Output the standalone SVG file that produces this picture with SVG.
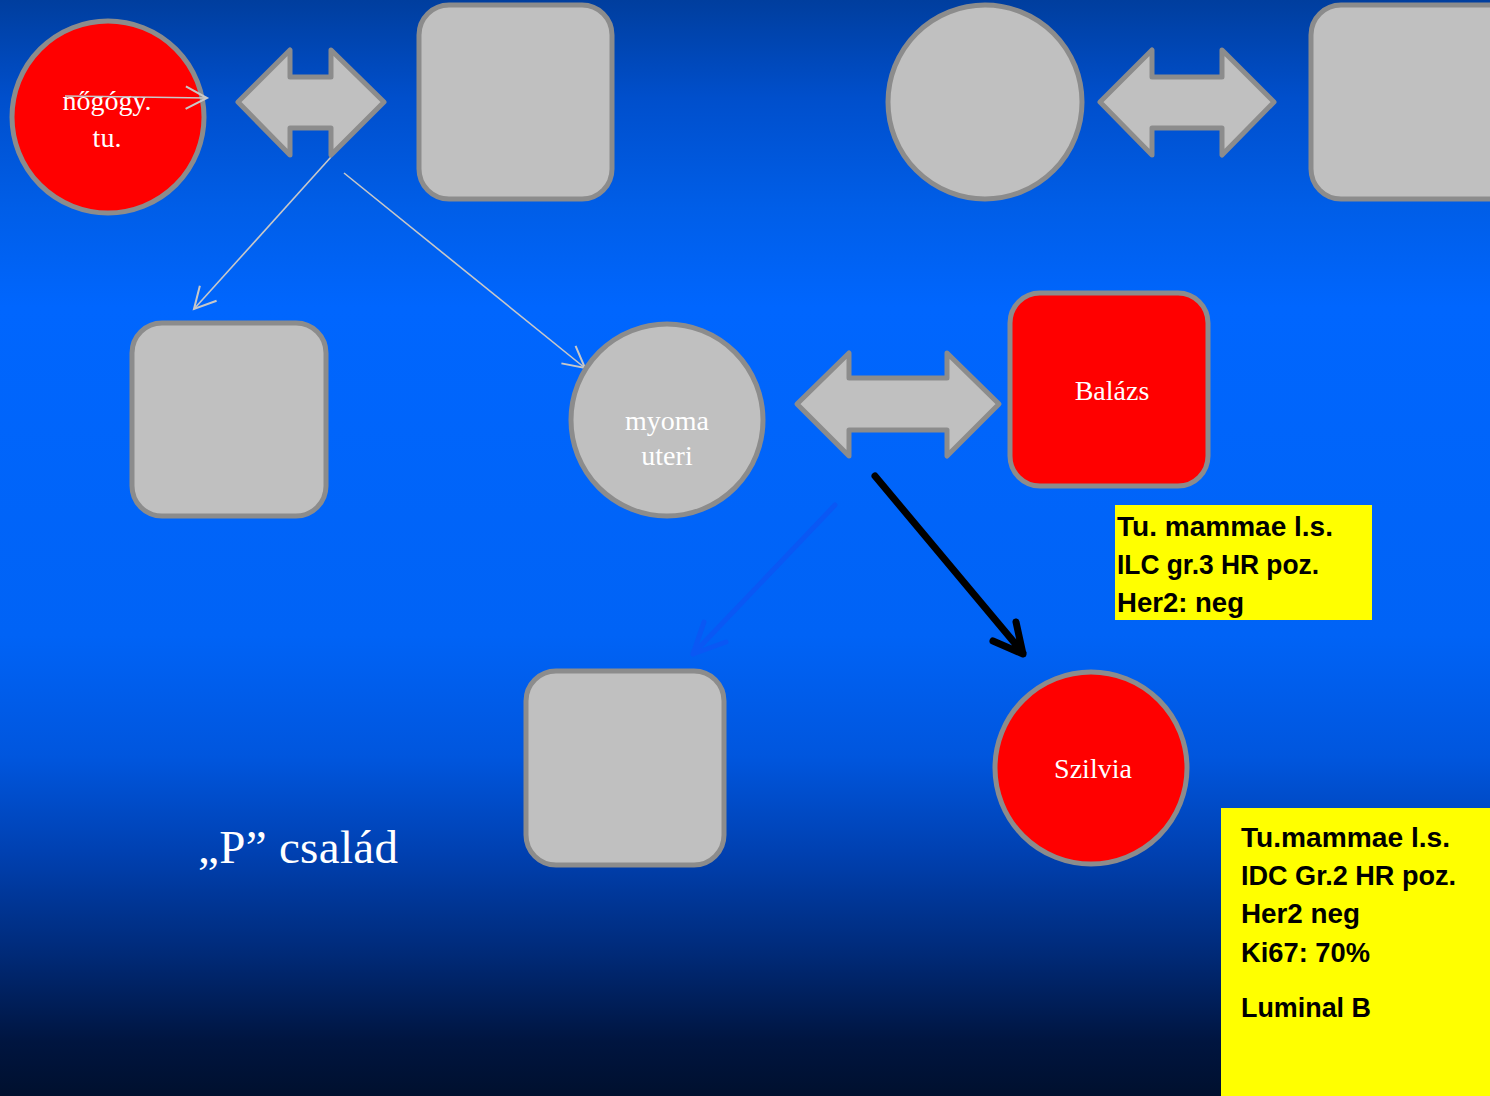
<svg xmlns="http://www.w3.org/2000/svg" width="1490" height="1096" viewBox="0 0 1490 1096">
<defs>
<linearGradient id="bg" x1="0" y1="0" x2="0" y2="1">
<stop offset="0" stop-color="#003e9e"/>
<stop offset="0.09" stop-color="#004fcc"/>
<stop offset="0.19" stop-color="#005ee8"/>
<stop offset="0.28" stop-color="#0066fe"/>
<stop offset="0.58" stop-color="#0063f6"/>
<stop offset="0.69" stop-color="#0056de"/>
<stop offset="0.78" stop-color="#0040b0"/>
<stop offset="0.87" stop-color="#002a78"/>
<stop offset="0.95" stop-color="#001540"/>
<stop offset="1" stop-color="#00102e"/>
</linearGradient>
<marker id="thin" markerUnits="userSpaceOnUse" markerWidth="30" markerHeight="30" viewBox="-20 -12 24 24" refX="0" refY="0" orient="auto">
<path d="M-17,-9 L0,0 L-17,9" fill="none" stroke="#c8c8c8" stroke-width="1.6"/>
</marker>
</defs>
<style>
.g{fill:#c0c0c0;stroke:#8c8c8c;stroke-width:5;stroke-linejoin:round}
.r{fill:#ff0000;stroke:#8c8c8c;stroke-width:5}
.lbl{font-family:"Liberation Serif","Times New Roman",serif;font-size:28px;fill:#ffffff;text-anchor:middle}
.note{font-family:"Liberation Sans",Arial,sans-serif;font-weight:bold;font-size:27px;fill:#000000}
.thin{stroke:#c8c8c8;stroke-width:1.6;fill:none}
</style>
<rect x="0" y="0" width="1490" height="1096" fill="url(#bg)"/>

<g id="connectors">
<line class="thin" x1="331" y1="157" x2="194" y2="309" marker-end="url(#thin)"/>
<line class="thin" x1="344" y1="173" x2="585" y2="368" marker-end="url(#thin)"/>
<path d="M835,505 L693,654 M704,622 L693,654 L726,642" fill="none" stroke="#0a58f4" stroke-width="5" stroke-linecap="round" stroke-linejoin="round"/>
<path d="M875,476 L1023,653 M1016,622 L1023,654 L993,641" fill="none" stroke="#000000" stroke-width="7" stroke-linecap="round" stroke-linejoin="round"/>
</g>

<g id="node-nogogy">
<circle class="r" cx="108" cy="117" r="96"/>
<text class="lbl" x="107" y="110">nőgógy.</text>
<text class="lbl" x="107" y="147">tu.</text>
<line class="thin" x1="65" y1="96" x2="207" y2="98" marker-end="url(#thin)"/>
</g>
<g id="dblarrow1"><path class="g" d="M238,102 L290,50 L290,77 L331,77 L331,50 L384,102 L331,155 L331,128 L290,128 L290,155 Z"/></g>
<g id="node-rect1"><rect class="g" x="419" y="5" width="193" height="194" rx="30"/></g>
<g id="node-circle-top"><circle class="g" cx="985" cy="102" r="97"/></g>
<g id="dblarrow2"><path class="g" d="M1100,102 L1152,50 L1152,77 L1222,77 L1222,50 L1274,102 L1222,155 L1222,128 L1152,128 L1152,155 Z"/></g>
<g id="node-rect-topright"><rect class="g" x="1311" y="5" width="220" height="194" rx="30"/></g>
<g id="node-rect2"><rect class="g" x="132" y="323" width="194" height="193" rx="30"/></g>
<g id="node-myoma">
<circle class="g" cx="667" cy="420" r="96"/>
<text class="lbl" x="667" y="430">myoma</text>
<text class="lbl" x="667" y="465">uteri</text>
</g>
<g id="dblarrow3"><path class="g" d="M797,404 L849,353 L849,378 L947,378 L947,353 L999,404 L947,456 L947,430 L849,430 L849,456 Z"/></g>
<g id="node-balazs">
<rect class="r" x="1010" y="293" width="198" height="193" rx="30"/>
<text class="lbl" x="1112" y="400">Balázs</text>
</g>
<g id="note1">
<rect x="1115" y="505" width="257" height="115" fill="#ffff00"/>
<text class="note" x="1117" y="536" textLength="216" lengthAdjust="spacingAndGlyphs">Tu. mammae l.s.</text>
<text class="note" x="1117" y="574" textLength="202" lengthAdjust="spacingAndGlyphs">ILC gr.3 HR poz.</text>
<text class="note" x="1117" y="612" textLength="127" lengthAdjust="spacingAndGlyphs">Her2: neg</text>
</g>
<g id="node-rect3"><rect class="g" x="526" y="671" width="198" height="194" rx="30"/></g>
<g id="node-szilvia">
<circle class="r" cx="1091" cy="768" r="96"/>
<text class="lbl" x="1093" y="778">Szilvia</text>
</g>
<g id="note2">
<rect x="1221" y="808" width="269" height="288" fill="#ffff00"/>
<text class="note" x="1241" y="847" textLength="209" lengthAdjust="spacingAndGlyphs">Tu.mammae l.s.</text>
<text class="note" x="1241" y="885" textLength="215" lengthAdjust="spacingAndGlyphs">IDC Gr.2 HR poz.</text>
<text class="note" x="1241" y="923" textLength="119" lengthAdjust="spacingAndGlyphs">Her2 neg</text>
<text class="note" x="1241" y="962" textLength="129" lengthAdjust="spacingAndGlyphs">Ki67: 70%</text>
<text class="note" x="1241" y="1017" textLength="130" lengthAdjust="spacingAndGlyphs">Luminal B</text>
</g>
<g id="title">
<text x="198" y="863" font-family="'Liberation Serif','Times New Roman',serif" font-size="47" fill="#ffffff" textLength="200" lengthAdjust="spacing">„P” család</text>
</g>
</svg>
